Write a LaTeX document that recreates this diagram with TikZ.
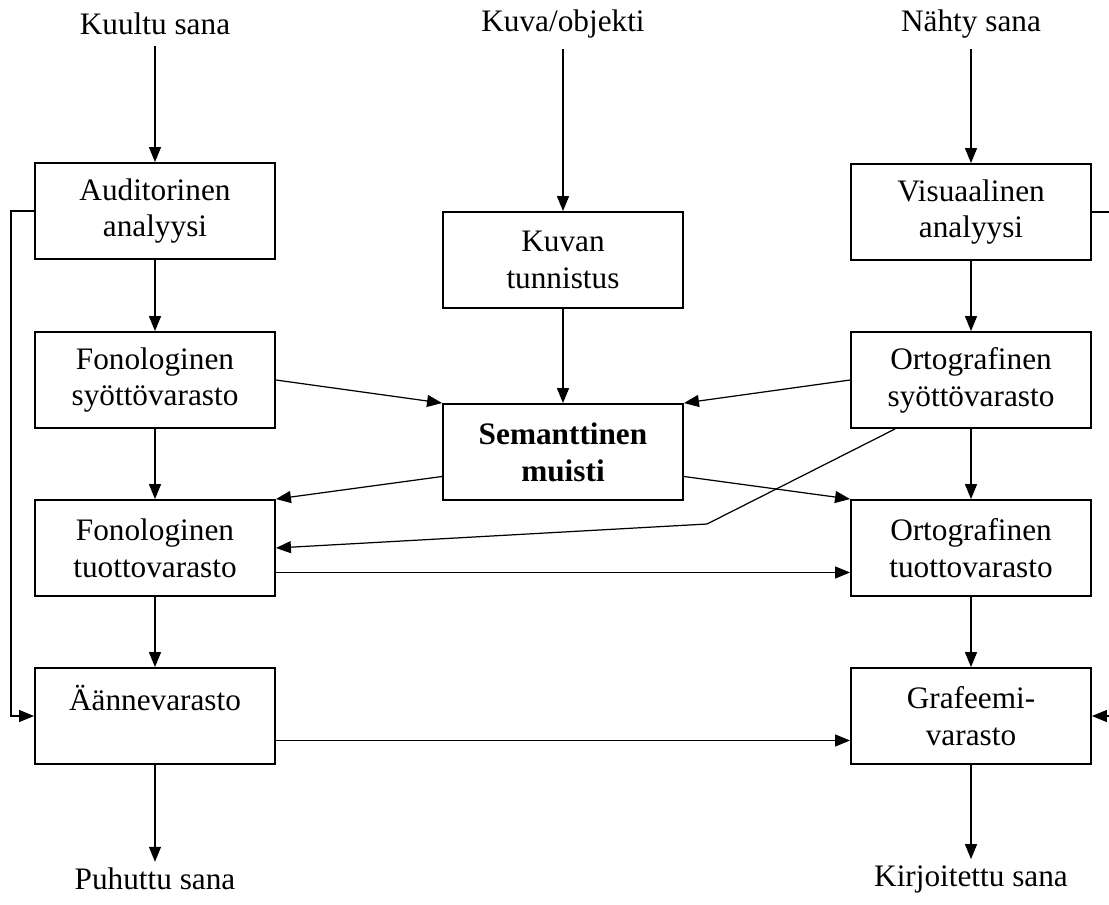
\documentclass[tikz,border=0pt]{standalone}
\usepackage{fontspec}
\setmainfont{Liberation Serif}
\usepackage{tikz}
\usetikzlibrary{positioning,calc,arrows.meta}
\tikzstyle{box}= [rectangle, draw, line width=1.1pt, minimum width=4.8cm, minimum height=1.92cm, inner sep=0pt, align=center, font=\fontsize{17.8}{21}\selectfont]
\tikzstyle{lab}= [font=\fontsize{17.8}{21}\selectfont]
\tikzstyle{conn}= [line width=0.7pt, -{Triangle[length=0.3cm,width=0.24cm]}]

\begin{document}
\begin{tikzpicture}[x=0.02cm, y=-0.02cm]
				\useasboundingbox (0,0) rectangle (1109,904);
				\node[lab] (kuu) at (155, 24) {Kuultu sana};
				\node[lab] (kuo) at (563, 24) {Kuva/objekti};
				\node[lab] (nah) at (971, 24) {Nähty sana};
				\node[box] (aud) at (155, 211) {Auditorinen\\analyysi};
				\node[box] (kut) at (563, 260) {Kuvan\\tunnistus};
				\node[box] (vis) at (971, 212) {Visuaalinen\\analyysi};
				\node[box] (fsy) at (155, 380) {Fonologinen\\syöttövarasto};
				\node[box] (sem) at (563, 452) {\textbf{Semanttinen}\\\textbf{muisti}};
				\node[box] (osy) at (971, 380) {Ortografinen\\syöttövarasto};
				\node[box] (ftu) at (155, 548) {Fonologinen\\tuottovarasto};
				\node[box] (otu) at (971, 548) {Ortografinen\\tuottovarasto};
				\node[box] (aan) at (155, 716) {Äännevarasto\\\phantom{Ä}};
				\node[box] (gra) at (971, 716) {Grafeemi-\\varasto};
				\node[lab] (puh) at (155, 879) {Puhuttu sana};
				\node[lab] (kir) at (971, 879) {Kirjoitettu sana};
				\coordinate (bend) at (707, 524);
				\draw[conn, shorten <=0.1cm] (kuu.south) -- (aud.north);
				\draw[conn, shorten <=0.1cm] (kuo.south) -- (kut.north);
				\draw[conn, shorten <=0.1cm] (nah.south) -- (vis.north);
				\draw[conn] (aud) -- (fsy);
				\draw[conn] (fsy) -- (ftu);
				\draw[conn] (ftu) -- (aan);
				\draw[conn] (kut) -- (sem);
				\draw[conn] (vis) -- (osy);
				\draw[conn] (osy) -- (otu);
				\draw[conn] (otu) -- (gra);
				\draw[conn] (aan.south) -- (puh.north);
				\draw[conn] (gra.south) -- (kir.north);
				\draw[conn] (fsy.east) -- (sem.north west);
				\draw[conn] (osy.west) -- (sem.north east);
				\draw[conn] ($(sem.west)!0.5!(sem.south west)$) -- (ftu.north east);
				\draw[conn] ($(sem.east)!0.5!(sem.south east)$) -- (otu.north west);
				\draw[conn] ($(osy.south west)+(45,0)$) -- (bend) -- (ftu.east);
				\draw[conn] ($(ftu.east)!0.5!(ftu.south east)$) -- ($(otu.west)!0.5!(otu.south west)$);
				\draw[conn] ($(aan.east)!0.5!(aan.south east)$) -- ($(gra.west)!0.5!(gra.south west)$);
				\draw[conn] (aud.west) -- ++(-23, 0) |- (aan.west);
				\draw[conn] (vis.east) -- ++(30, 0) |- (gra.east);
			\end{tikzpicture}
\end{document}
